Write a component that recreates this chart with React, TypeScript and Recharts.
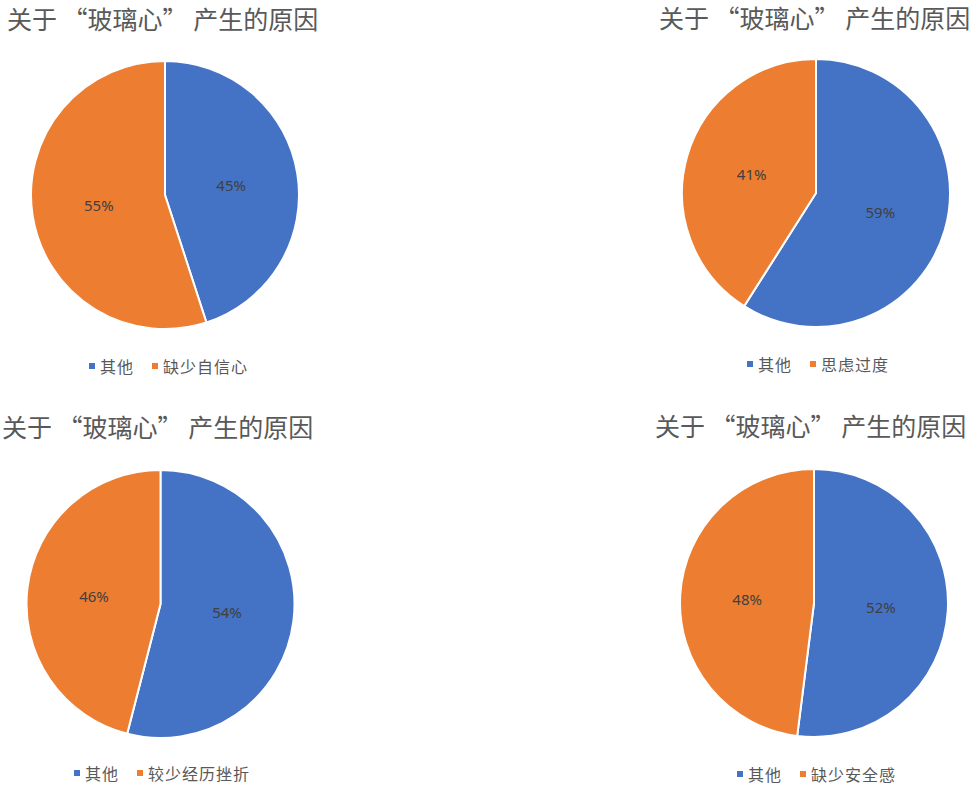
import React from 'react';
import { PieChart, Pie, Cell, Legend } from 'recharts';

const TITLE = '关于 “玻璃心” 产生的原因';
const OTHER = '其他';

const reasons = ['缺少自信心', '思虑过度', '较少经历挫折', '缺少安全感'];
const otherShare = [45, 59, 54, 52];
const reasonShare = [55, 41, 46, 48];

const BLUE = '#4472C4';
const ORANGE = '#ED7D31';
const COLORS = [BLUE, ORANGE];

const W = 490;
const H = 397;
const R = 134;

// layout per panel: chart origin, pie centre, title pos, legend pos
const panels = [
  { x: 0, y: 0, cx: 165, cy: 195, tx: 7, ty: 5, lx: 89, ly: 357 },
  { x: 490, y: 0, cx: 326, cy: 193, tx: 169, ty: 4, lx: 257, ly: 355 },
  { x: 0, y: 397, cx: 160.5, cy: 207, tx: 2, ty: 16, lx: 74, ly: 367 },
  { x: 490, y: 397, cx: 324, cy: 206, tx: 165, ty: 15, lx: 247, ly: 368 },
];

const RAD = Math.PI / 180;

const renderLabel = (props: any) => {
  const { cx, cy, midAngle, outerRadius, percent } = props;
  const r = outerRadius * 0.5;
  const x = cx + r * Math.cos(-midAngle * RAD);
  const y = cy + r * Math.sin(-midAngle * RAD);
  return (
    <text
      x={x}
      y={y}
      fill="#404040"
      fontSize={15}
      fontFamily="'Noto Sans', sans-serif"
      textAnchor="middle"
      dominantBaseline="central"
    >
      {`${Math.round(percent * 100)}%`}
    </text>
  );
};

const renderLegend = (props: any) => {
  const { payload } = props;
  return (
    <div style={{ display: 'flex', alignItems: 'center', fontFamily: "'Noto Sans CJK SC', sans-serif", fontSize: 16, letterSpacing: 1, color: '#595959', lineHeight: '18px' }}>
      {(payload || []).map((entry: any, i: number) => (
        <div key={i} style={{ display: 'flex', alignItems: 'center', marginRight: 18 }}>
          <span style={{ width: 6, height: 6, background: entry.color, marginRight: 5, display: 'inline-block' }} />
          <span>{entry.value}</span>
        </div>
      ))}
    </div>
  );
};

export default function App() {
  return (
    <div style={{ position: 'absolute', left: 0, top: 0, width: 980, height: 794, background: '#fff', overflow: 'hidden' }}>
      {panels.map((p, i) => {
        const data = [
          { name: OTHER, value: otherShare[i] },
          { name: reasons[i], value: reasonShare[i] },
        ];
        return (
          <div key={i} style={{ position: 'absolute', left: p.x, top: p.y, width: W, height: H }}>
            <div
              style={{
                position: 'absolute',
                left: p.tx,
                top: p.ty,
                fontFamily: "'Noto Sans CJK SC', sans-serif",
                fontSize: 25,
                lineHeight: '26px',
                color: '#595959',
                whiteSpace: 'pre',
              }}
            >
              {TITLE}
            </div>
            <PieChart
              width={W}
              height={H}
              margin={{ top: 0, right: 0, bottom: 0, left: 0 }}
              style={{ position: 'absolute', left: 0, top: 0 }}
            >
              <Pie
                data={data}
                dataKey="value"
                nameKey="name"
                cx={p.cx}
                cy={p.cy}
                outerRadius={R}
                startAngle={90}
                endAngle={-270}
                stroke="#fff"
                strokeWidth={2}
                label={renderLabel}
                labelLine={false}
                isAnimationActive={false}
              >
                {data.map((_, j) => (
                  <Cell key={j} fill={COLORS[j]} />
                ))}
              </Pie>
              <Legend
                content={renderLegend}
                wrapperStyle={{ left: p.lx, top: p.ly, width: 260 }}
              />
            </PieChart>
          </div>
        );
      })}
    </div>
  );
}
